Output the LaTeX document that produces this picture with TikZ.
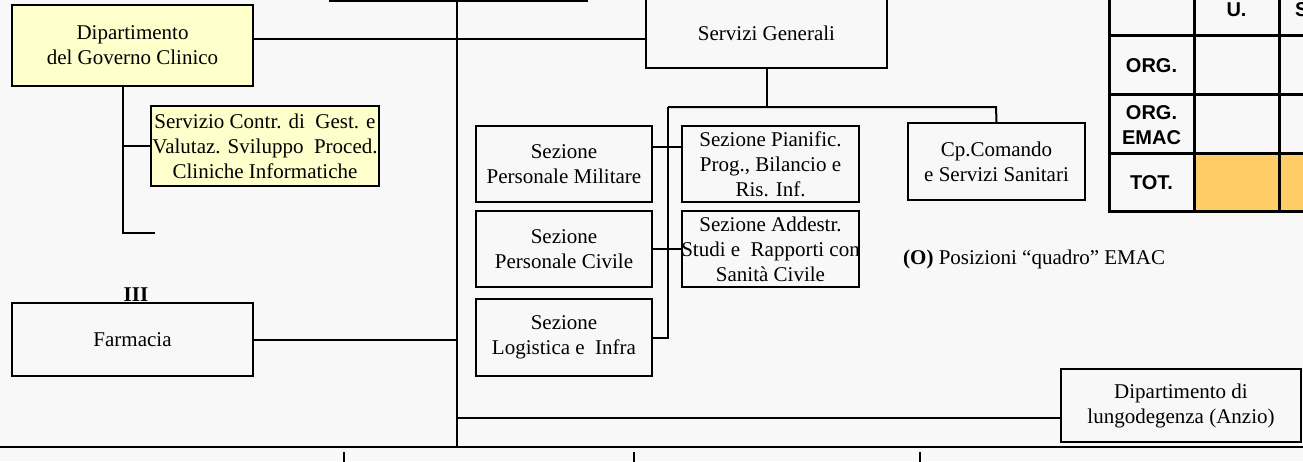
\documentclass[tikz,border=0pt]{standalone}
\usepackage{fontspec}
\setmainfont{Liberation Serif}
\newfontfamily\arialfont{Liberation Sans}
\definecolor{bgcol}{HTML}{F8F8F8}
\definecolor{paleyellow}{HTML}{FFFFCC}
\definecolor{taborange}{HTML}{FFCC66}
\begin{document}
\begin{tikzpicture}[x=1pt,y=-1pt,
  box/.style={draw, line width=2pt, inner sep=0pt, align=center, font=\fontsize{21}{25}\selectfont},
  ybox/.style={box, fill=paleyellow},
  conn/.style={line width=2pt},
  tline/.style={line width=3pt},
  ttext/.style={font=\arialfont\bfseries\fontsize{20}{25}\selectfont, align=center, inner sep=0pt},
  plain/.style={font=\fontsize{21}{25}\selectfont, inner sep=0pt}]
\useasboundingbox (0,0) rectangle (1303,461);
\fill[bgcol] (0,0) rectangle (1303,461);

% boxes
\node[box, minimum width=257, minimum height=40, anchor=south] (topbox) at (458.5,2) {};
\node[ybox, minimum width=241, minimum height=81] (dgc) at (132.5,45.5) {Dipartimento\\del Governo Clinico};
\node[ybox, minimum width=228, minimum height=80] (srv) at (265,146)
  {\makebox[220pt]{Servizio Contr. di\ \ Gest. e}\\\makebox[220pt]{Valutaz. Sviluppo\ \ Proced.}\\Cliniche Informatiche};
\node[box, minimum width=241, minimum height=73] (farm) at (132.5,339.5) {Farmacia};
\node[box, minimum width=241, minimum height=90, anchor=south] (sg) at (766.5,69) {};
\node[plain] (sgt) at (766.5,33) {Servizi Generali};
\node[box, minimum width=176, minimum height=76] (pm) at (564,164) {Sezione\\Personale Militare};
\node[box, minimum width=176, minimum height=76] (pc) at (564,249) {Sezione\\Personale Civile};
\node[box, minimum width=176, minimum height=77] (log) at (564,337.5) {Sezione\\Logistica e\ \ Infra};
\node[box, minimum width=177, minimum height=76] (pp) at (770.5,164) {Sezione Pianific.\\Prog., Bilancio e\\Ris. Inf.};
\node[box, minimum width=177, minimum height=76] (ad) at (770.5,249) {Sezione Addestr.\\\makebox[170pt]{Studi e\ \ Rapporti con}\\Sanità Civile};
\node[box, minimum width=177, minimum height=77] (cp) at (996.5,161.5) {Cp.Comando\\e Servizi Sanitari};
\node[box, minimum width=240, minimum height=73] (lung) at (1181,405.5) {Dipartimento di\\lungodegenza (Anzio)};

\node[plain, font=\bfseries\fontsize{21}{25}\selectfont] (iii) at (136,295) {III};
\node[plain, anchor=west] (legend) at (903,259) {\textbf{(O)} Posizioni “quadro” EMAC};

% coordinates
\coordinate (mtop) at (457,2);
\coordinate (mbot) at (457,447);
\coordinate (bl) at (0,447);
\coordinate (br) at (1303,447);
\coordinate (y39) at (0,39);
\coordinate (y418) at (0,418);
\coordinate (dv) at (123,233);
\coordinate (dstub) at (155,233);
\coordinate (hv) at (668,107);
\coordinate (hr) at (996,107);
\coordinate (t1a) at (344,452); \coordinate (t1b) at (344,470);
\coordinate (t2a) at (634,452); \coordinate (t2b) at (634,470);
\coordinate (t3a) at (920,452); \coordinate (t3b) at (920,470);

% connectors
\draw[conn] (mtop) -- (mbot);
\draw[conn] (bl) -- (br);
\draw[conn] (dgc.east |- y39) -- (sg.west |- y39);
\draw[conn] (dgc.south -| dv) -- (dv) -- (dstub);
\draw[conn] (srv.west -| dv) -- (srv.west);
\draw[conn] (farm.east) -- (farm.east -| mtop);
\draw[conn] (mtop |- y418) -- (lung.west |- y418);
\draw[conn] (sg.south) -- (sg.south |- hv);
\draw[conn] (hv) -- (hr) -- (cp.north);
\draw[conn] (hv) -- (log.east -| hv) -- (log.east);
\draw[conn] (pm.east |- 0,147) -- (pp.west |- 0,147);
\draw[conn] (pc.east) -- (ad.west);
\draw[conn] (t1a) -- (t1b);
\draw[conn] (t2a) -- (t2b);
\draw[conn] (t3a) -- (t3b);

% table
\fill[taborange] (1194,153) rectangle (1310,211);
\foreach \xx in {1109,1194,1279} {\draw[tline] (\xx,-30) -- (\xx,211);}
\foreach \yy in {35,94,153} {\draw[tline] (1109,\yy) -- (1310,\yy);}
\draw[tline] (1107.5,211) -- (1310,211);
\node[ttext] (hu) at (1236.5,10) {U.};
\node[ttext, anchor=west] (hs) at (1295,10) {S};
\node[ttext] (rorg) at (1151.5,66) {ORG.};
\node[ttext] (remac) at (1151.5,125) {ORG.\\EMAC};
\node[ttext] (rtot) at (1151.5,183) {TOT.};
\end{tikzpicture}
\end{document}
